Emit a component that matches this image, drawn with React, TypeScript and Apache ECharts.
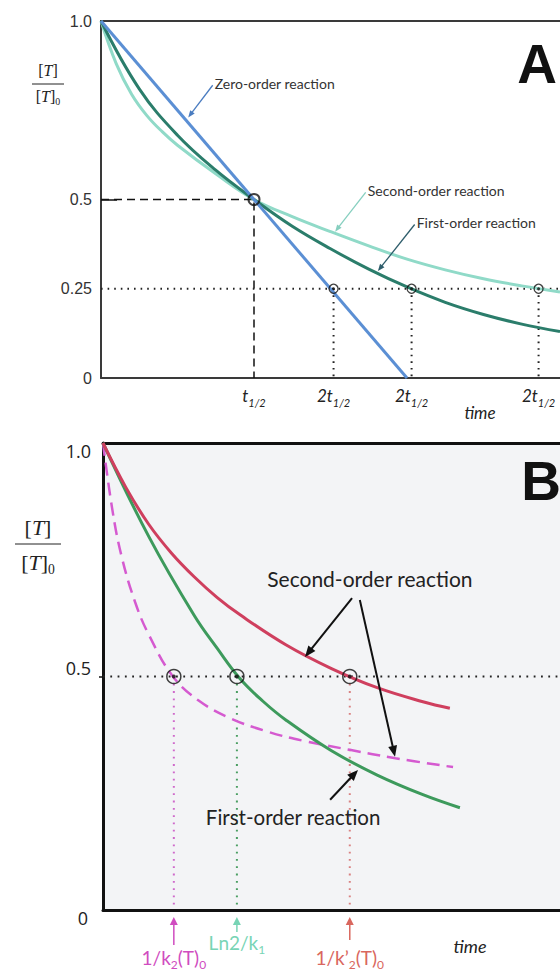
import React, { useEffect, useRef } from "react";
import * as echarts from "echarts";

// ---------- Panel A (time in units of t1/2, [T]/[T]0) ----------
const aZeroTime = [0, 2];
const aZeroValue = [1, 0];
const aFirstTime = [0, 0.25, 0.5, 0.75, 1, 1.25, 1.5, 1.75, 2, 2.25, 2.5, 2.75, 3];
const aFirstValue = [1, 0.81, 0.68, 0.582, 0.5, 0.425, 0.362, 0.305, 0.255, 0.212, 0.178, 0.151, 0.13];
const aSecondTime = [0, 0.1, 0.2, 0.3, 0.4, 0.5, 0.75, 1, 1.25, 1.5, 1.75, 2, 2.25, 2.5, 2.75, 3];
const aSecondValue = [1, 0.88, 0.795, 0.735, 0.69, 0.652, 0.572, 0.5, 0.452, 0.41, 0.37, 0.333, 0.303, 0.278, 0.258, 0.241];
const aHalfTime = 1;
const aQuarterTimes = [1.52, 2.03, 2.86];
const aXTickValues = [1, 1.52, 2.03, 2.86];
const aXTickPrefix = ["t", "2t", "2t", "2t"];
const aYTickValues = [0, 0.25, 0.5, 1];
const aYTickLabels = ["0", "0.25", "0.5", "1.0"];

// ---------- Panel B ----------
const bFirstTime = [0, 1, 2, 2.5, 3, 3.5, 4, 5, 6, 7, 7.81];
const bFirstValue = [1, 0.8, 0.63, 0.56, 0.495, 0.447, 0.407, 0.341, 0.289, 0.247, 0.219];
const bSecondSlowTime = [0, 0.5, 1, 1.5, 2, 2.5, 3, 4, 5, 6, 7, 7.59];
const bSecondSlowValue = [1, 0.905, 0.826, 0.764, 0.713, 0.669, 0.632, 0.568, 0.517, 0.476, 0.446, 0.432];
const bSecondFastTime = [0, 0.2, 0.4, 0.7, 1.0, 1.53, 2.1, 2.8, 3.6, 4.4, 5.4, 6.4, 7.66];
const bSecondFastValue = [1, 0.86, 0.76, 0.66, 0.59, 0.5, 0.448, 0.41, 0.382, 0.362, 0.343, 0.325, 0.306];
const bMarkTimes = [1.55, 2.93, 5.4];
const bYTickValues = [0, 0.5, 1];
const bYTickLabels = ["0", "0.5", "1.0"];

const pairs = (xs: number[], ys: number[]) => xs.map((x, i) => [x, ys[i]]);

const A_ZERO = "#5b8fd4";
const A_FIRST = "#2b7d6b";
const A_SECOND = "#90dac8";
const B_RED = "#cf3f5e";
const B_GREEN = "#3d9a5c";
const B_MAG = "#d55ad0";

const SANS = "Liberation Sans, Arial, sans-serif";
const CAL = "Lato, Open Sans, sans-serif";
const SERIF = "Liberation Serif, DejaVu Serif, serif";

function buildOption(): any {
  const series: any[] = [];
  const curve = (xi: number, yi: number, data: number[][], color: string, width: number, z: number, type: any = "solid") => ({
    type: "line",
    xAxisIndex: xi,
    yAxisIndex: yi,
    data,
    smooth: 0.4,
    showSymbol: false,
    silent: true,
    lineStyle: { color, width, type },
    z,
  });
  const guide = (xi: number, yi: number, data: number[][], color: string, width: number, type: any, z = 2) => ({
    type: "line",
    xAxisIndex: xi,
    yAxisIndex: yi,
    data,
    showSymbol: false,
    silent: true,
    lineStyle: { color, width, type },
    z,
  });
  const circles = (xi: number, yi: number, data: number[][], size: number, bw: number, dot: number) => {
    const out: any[] = [
      {
        type: "scatter",
        xAxisIndex: xi,
        yAxisIndex: yi,
        data,
        symbolSize: size,
        silent: true,
        itemStyle: { color: "rgba(0,0,0,0)", borderColor: "#111", borderWidth: bw },
        z: 10,
      },
    ];
    if (dot > 0)
      out.push({
        type: "scatter",
        xAxisIndex: xi,
        yAxisIndex: yi,
        data,
        symbolSize: dot,
        silent: true,
        itemStyle: { color: "#111" },
        z: 11,
      });
    return out;
  };

  // Panel A
  series.push(guide(0, 0, [[0, 0.5], [aHalfTime, 0.5], [aHalfTime, 0]], "#111", 1.5, [8, 5]));
  series.push(guide(0, 0, [[0, 0.25], [3, 0.25]], "#222", 2, [1.6, 5]));
  aQuarterTimes.forEach((t) => series.push(guide(0, 0, [[t, 0.25], [t, 0]], "#222", 2, [1.6, 5])));
  series.push(curve(0, 0, pairs(aSecondTime, aSecondValue), A_SECOND, 3, 3));
  series.push(curve(0, 0, pairs(aFirstTime, aFirstValue), A_FIRST, 3, 4));
  series.push({ ...curve(0, 0, pairs(aZeroTime, aZeroValue), A_ZERO, 3, 5), smooth: false });
  series.push(...circles(0, 0, [[aHalfTime, 0.5]], 11, 2, 0));
  series.push(...circles(0, 0, aQuarterTimes.map((t) => [t, 0.25]), 9, 1.3, 3));

  // Panel B
  series.push(guide(2, 1, [[0, 0.5], [10, 0.5]], "#222", 2, [1.8, 5.5]));
  const markColors = ["#cf6acb", "#4a9e62", "#d98282"];
  bMarkTimes.forEach((t, i) => series.push(guide(2, 1, [[t, 0.5], [t, 0]], markColors[i], 2, [1.8, 5.5])));
  series.push(curve(2, 1, pairs(bSecondFastTime, bSecondFastValue), B_MAG, 2.5, 3, [13, 7]));
  series.push(curve(2, 1, pairs(bFirstTime, bFirstValue), B_GREEN, 3, 4));
  series.push(curve(2, 1, pairs(bSecondSlowTime, bSecondSlowValue), B_RED, 3, 5));
  series.push(...circles(2, 1, bMarkTimes.map((t) => [t, 0.5]), 14, 1.5, 4));

  const noAxisParts = { axisTick: { show: false }, axisLabel: { show: false }, splitLine: { show: false } };

  return {
    animation: false,
    backgroundColor: "#ffffff",
    grid: [
      { left: 101, top: 21, width: 459, height: 357 },
      { left: 103, top: 443, width: 457, height: 467, show: true, backgroundColor: "#f3f4f6", borderWidth: 0 },
    ],
    xAxis: [
      {
        gridIndex: 0,
        type: "value",
        min: 0,
        max: 3,
        position: "bottom",
        axisLine: { show: true, onZero: false, lineStyle: { color: "#3a3a3a", width: 2 } },
        axisTick: { show: false },
        splitLine: { show: false },
        axisLabel: {
          show: true,
          customValues: aXTickValues,
          margin: 4,
          formatter: (v: number) => {
            const i = aXTickValues.findIndex((x) => Math.abs(x - v) < 1e-6);
            return `{t|${aXTickPrefix[i < 0 ? 0 : i]}}{s|1/2}`;
          },
          rich: {
            t: { fontFamily: CAL, fontStyle: "italic", fontSize: 17, lineHeight: 26, color: "#222" },
            s: { fontFamily: CAL, fontStyle: "italic", fontSize: 11, verticalAlign: "bottom", color: "#222" },
          },
        },
      },
      {
        gridIndex: 0,
        type: "value",
        min: 0,
        max: 3,
        position: "top",
        axisLine: { show: true, onZero: false, lineStyle: { color: "#3a3a3a", width: 2 } },
        ...noAxisParts,
      },
      {
        gridIndex: 1,
        type: "value",
        min: 0,
        max: 10,
        position: "bottom",
        axisLine: { show: true, onZero: false, lineStyle: { color: "#111", width: 3 } },
        ...noAxisParts,
      },
      {
        gridIndex: 1,
        type: "value",
        min: 0,
        max: 10,
        position: "top",
        axisLine: { show: true, onZero: false, lineStyle: { color: "#111", width: 3 } },
        ...noAxisParts,
      },
    ],
    yAxis: [
      {
        gridIndex: 0,
        type: "value",
        min: 0,
        max: 1,
        axisLine: { show: true, onZero: false, lineStyle: { color: "#3a3a3a", width: 2 } },
        splitLine: { show: false },
        axisTick: { show: true, inside: true, length: 16, customValues: [0.5], lineStyle: { color: "#111", width: 1.5 } },
        axisLabel: {
          show: true,
          customValues: aYTickValues,
          margin: 9,
          fontFamily: SANS,
          fontSize: 16,
          color: "#333",
          formatter: (v: number) => {
            const i = aYTickValues.findIndex((x) => Math.abs(x - v) < 1e-6);
            return i < 0 ? "" : aYTickLabels[i];
          },
        },
      },
      {
        gridIndex: 1,
        type: "value",
        min: 0,
        max: 1,
        axisLine: { show: true, onZero: false, lineStyle: { color: "#111", width: 3 } },
        splitLine: { show: false },
        axisTick: { show: true, inside: false, length: 4, customValues: [0.5], lineStyle: { color: "#111", width: 1.5 } },
        axisLabel: {
          show: true,
          customValues: bYTickValues,
          margin: 12,
          formatter: (v: number) => {
            const i = bYTickValues.findIndex((x) => Math.abs(x - v) < 1e-6);
            if (i < 0) return "";
            const style = v === 0.5 ? "u" : v === 0 ? "z" : "d";
            return `{${style}|${bYTickLabels[i]}}`;
          },
          rich: {
            d: { fontFamily: "Open Sans, sans-serif", fontSize: 18, color: "#222", padding: [16, 0, 0, 0] },
            u: { fontFamily: "Open Sans, sans-serif", fontSize: 18, color: "#222", padding: [0, 0, 17, 0] },
            z: { fontFamily: "Open Sans, sans-serif", fontSize: 18, color: "#222", padding: [16, 3, 0, 0] },
          },
        },
      },
    ],
    series,
  };
}

function arrow(p1: number[], p2: number[], color: string, width: number, head: number, hw: number) {
  const dx = p2[0] - p1[0];
  const dy = p2[1] - p1[1];
  const len = Math.hypot(dx, dy) || 1;
  const ux = dx / len;
  const uy = dy / len;
  const bx = p2[0] - ux * head;
  const by = p2[1] - uy * head;
  const nx = -uy;
  const ny = ux;
  return [
    {
      type: "line",
      z: 100,
      silent: true,
      shape: { x1: p1[0], y1: p1[1], x2: bx + ux, y2: by + uy },
      style: { stroke: color, lineWidth: width },
    },
    {
      type: "polygon",
      z: 100,
      silent: true,
      shape: { points: [[p2[0], p2[1]], [bx + nx * hw, by + ny * hw], [bx - nx * hw, by - ny * hw]] },
      style: { fill: color },
    },
  ];
}

function txt(x: number, y: number, text: string, style: any) {
  return { type: "text", x, y, z: 100, silent: true, style: { text, ...style } };
}

function fraction(cx: number, yNum: number, yBar: number, yDen: number, half: number, size: number) {
  const rich = {
    b: { fontFamily: SERIF, fontSize: size, fill: "#222" },
    i: { fontFamily: SERIF, fontStyle: "italic", fontSize: size, fill: "#222" },
    s: { fontFamily: SERIF, fontSize: size * 0.62, fill: "#222", verticalAlign: "bottom" },
  };
  return [
    txt(cx, yNum, "{b|[}{i|T}{b|]}", { rich, align: "center", verticalAlign: "middle" }),
    {
      type: "line",
      z: 100,
      silent: true,
      shape: { x1: cx - half, y1: yBar, x2: cx + half, y2: yBar },
      style: { stroke: "#222", lineWidth: 1 },
    },
    txt(cx, yDen, "{b|[}{i|T}{b|]}{s|0}", { rich: { ...rich, b: { ...rich.b, lineHeight: size * 1.35 }, i: { ...rich.i, lineHeight: size * 1.35 } }, align: "center", verticalAlign: "middle" }),
  ];
}

function buildGraphic(chart: any) {
  const toA = (p: number[]) => chart.convertToPixel({ xAxisIndex: 0, yAxisIndex: 0 }, p) as number[];
  const toB = (p: number[]) => chart.convertToPixel({ xAxisIndex: 2, yAxisIndex: 1 }, p) as number[];
  const els: any[] = [];

  // Panel A annotations
  const aNotes = [
    { from: [0.73, 0.82], to: [0.57, 0.73], label: "Zero-order reaction", color: "#4a7cc0" },
    { from: [1.73, 0.52], to: [1.53, 0.41], label: "Second-order reaction", color: "#86cfbf" },
    { from: [2.05, 0.43], to: [1.81, 0.3], label: "First-order reaction", color: "#2e5d6b" },
  ];
  aNotes.forEach((n) => {
    const p1 = toA(n.from);
    const p2 = toA(n.to);
    els.push(...arrow(p1, p2, n.color, 1.3, 7, 2.8));
    els.push(txt(p1[0] + 2, p1[1] - 2, n.label, { fontFamily: CAL, fontSize: 14, fill: "#333", align: "left", verticalAlign: "middle" }));
  });
  const aBottom = toA([0, 0]);
  const aTop = toA([3, 1]);
  els.push(txt(480, aBottom[1] + 34, "time", { fontFamily: CAL, fontStyle: "italic", fontSize: 17, fill: "#222", align: "center", verticalAlign: "middle" }));
  els.push(txt(537, aTop[1] + 43, "A", { fontFamily: SANS, fontWeight: "bold", fontSize: 55, fill: "#111", align: "center", verticalAlign: "middle" }));
  els.push(...fraction(48, 70, 84, 96, 16, 16));

  // Panel B annotations
  const bArrows = [
    { from: [5.45, 0.668], to: [4.42, 0.542] },
    { from: [5.62, 0.664], to: [6.39, 0.328] },
    { from: [4.97, 0.236], to: [5.58, 0.3] },
  ];
  bArrows.forEach((a) => els.push(...arrow(toB(a.from), toB(a.to), "#111", 2, 11, 4.5)));
  const s = toB([5.84, 0.709]);
  els.push(txt(s[0], s[1], "Second-order reaction", { fontFamily: CAL, fontSize: 21, fill: "#222", align: "center", verticalAlign: "middle" }));
  const f = toB([4.16, 0.199]);
  els.push(txt(f[0], f[1], "First-order reaction", { fontFamily: CAL, fontSize: 20.5, fill: "#222", align: "center", verticalAlign: "middle" }));

  const bBase = toB([0, 0]);
  const bTop = toB([10, 1]);
  const marks = [
    { color: "#d04cc0", tail: 35, textY: 47, text: "{n|1/k}{s|2}{n|(T)}{s|0}" },
    { color: "#78d4b5", tail: 22, textY: 32, text: "{n|Ln2/k}{s|1}" },
    { color: "#d9675e", tail: 30, textY: 47, text: "{n|1/k’}{s|2}{n|(T)}{s|0}" },
  ];
  bMarkTimes.forEach((t, i) => {
    const p = toB([t, 0]);
    const m = marks[i];
    els.push(...arrow([p[0], bBase[1] + m.tail], [p[0], bBase[1] + 7], m.color, 1.5, 8, 4));
    els.push(
      txt(p[0], bBase[1] + m.textY, m.text, {
        align: "center",
        verticalAlign: "middle",
        rich: {
          n: { fontFamily: CAL, fontSize: 19, lineHeight: 27, fill: m.color },
          s: { fontFamily: CAL, fontSize: 12, fill: m.color, verticalAlign: "bottom" },
        },
      })
    );
  });
  els.push(txt(470, bBase[1] + 36, "time", { fontFamily: CAL, fontStyle: "italic", fontSize: 18, fill: "#222", align: "center", verticalAlign: "middle" }));
  els.push(txt(541, bTop[1] + 38, "B", { fontFamily: SANS, fontWeight: "bold", fontSize: 55, fill: "#111", align: "center", verticalAlign: "middle" }));
  els.push(...fraction(38, 527, 544, 562, 23, 22));

  return els;
}

export default function App() {
  const ref = useRef<HTMLDivElement>(null);
  useEffect(() => {
    const el = ref.current;
    if (!el) return;
    const chart = echarts.init(el, null, { renderer: "svg" });
    chart.setOption(buildOption());
    chart.setOption({ graphic: buildGraphic(chart) });
    return () => chart.dispose();
  }, []);
  return <div ref={ref} style={{ position: "absolute", left: 0, top: 0, width: 560, height: 972 }} />;
}
